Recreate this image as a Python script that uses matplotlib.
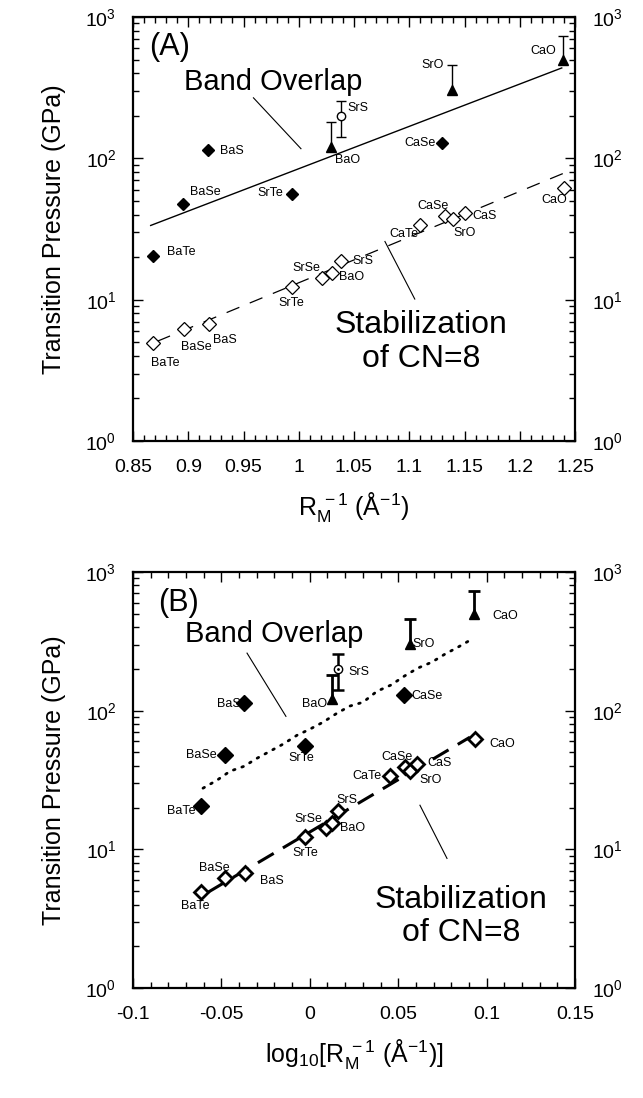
import numpy as np
import matplotlib
matplotlib.use("Agg")
import matplotlib.pyplot as plt
from matplotlib.ticker import MultipleLocator, FuncFormatter, LogLocator, NullFormatter

plt.rcParams['font.family'] = ['Liberation Sans', 'DejaVu Sans']
plt.rcParams['mathtext.fontset'] = 'custom'
plt.rcParams['mathtext.rm'] = 'Liberation Sans'
plt.rcParams['mathtext.it'] = 'Liberation Sans'
plt.rcParams['axes.unicode_minus'] = False

# ------------------------------------------------------------
# data
# ------------------------------------------------------------

# band overlap, filled diamonds
bo_names = ['BaTe', 'BaSe', 'BaS', 'SrTe', 'CaSe']
bo_x = [0.868, 0.895, 0.918, 0.994, 1.130]
bo_p = [20.5, 47.5, 114.0, 56.0, 129.0]

# band overlap, triangles with upper error bar
tri_names = ['BaO', 'SrO', 'CaO']
tri_x = [1.029, 1.139, 1.239]
tri_p = [121.0, 305.0, 497.0]
tri_hi = [181.0, 458.0, 735.0]

# SrS, circle with two-sided error bar
srs_x = 1.038
srs_p = 200.0
srs_lo = 142.0
srs_hi = 255.0

# stabilization of CN=8, open diamonds
cn_names = ['BaTe', 'BaSe', 'BaS', 'SrTe', 'SrSe', 'BaO', 'SrS',
            'CaTe', 'CaSe', 'SrO', 'CaS', 'CaO']
cn_x = [0.868, 0.896, 0.919, 0.994, 1.021, 1.030, 1.038,
        1.110, 1.132, 1.140, 1.150, 1.240]
cn_p = [4.9, 6.2, 6.7, 12.2, 14.2, 15.4, 18.8,
        34.0, 39.0, 37.0, 41.0, 62.0]

# fitted lines, panel A
fitA_bo_x = [0.866, 1.238]
fitA_bo_p = [33.5, 436.0]
fitA_cn_x = [0.872, 1.239]
fitA_cn_p = [5.08, 78.0]

# fitted curves, panel B (x = log10 R^-1)
fitB_cn_x = [-0.0576, 0.0906]
fitB_cn_p = [4.9, 64.4]
fitB_bo_x = [-0.0604, -0.0525, -0.0451, -0.0372, -0.0298, -0.0225, -0.0152,
             -0.0072, 0.0000, 0.0075, 0.0154, 0.0227, 0.0301, 0.0380,
             0.0459, 0.0533, 0.0612, 0.0691, 0.0765, 0.0838, 0.0917]
fitB_bo_p = [27.6, 31.5, 36.6, 39.7, 45.4, 51.0, 57.3,
             66.5, 73.5, 82.6, 95.9, 108.0, 115.0, 138.0,
             153.0, 177.0, 203.0, 224.0, 256.0, 287.0, 328.0]

# label offsets in pixels (dx, dy down, ha) for each panel
labA_bo = [(14, -4, 'left'), (7, -12, 'left'), (12, 1, 'left'), (-9, -1, 'right'), (-7, 0, 'right')]
labA_tri = [(4, 13, 'left'), (-9, -25, 'right'), (-7, -9, 'right')]
labA_srs = (7, -8, 'left')
labA_cn = [(12, 20, 'center'), (12, 18, 'center'), (4, 16, 'left'), (-1, 16, 'center'),
           (-16, -10, 'center'), (7, 4, 'left'), (12, 0, 'left'), (-16, 9, 'center'),
           (-12, -10, 'center'), (11, 14, 'center'), (8, 3, 'left'), (-10, 12, 'center')]

labB_bo = [(-6, 5, 'right'), (-8, 0, 'right'), (-3, 1, 'right'), (-4, 12, 'center'), (8, 1, 'left')]
labB_tri = [(-5, 5, 'right'), (3, 0, 'left'), (18, 2, 'left')]
labB_srs = (10, 3, 'left')
labB_cn = [(-6, 14, 'center'), (-11, -10, 'center'), (15, 8, 'left'), (0, 16, 'center'),
           (-17, -9, 'center'), (8, 5, 'left'), (8, -11, 'center'), (-8, 0, 'right'),
           (-8, -10, 'center'), (20, 9, 'center'), (10, -1, 'left'), (14, 5, 'left')]

W, H = 643, 1098
fig = plt.figure(figsize=(W / 100, H / 100), dpi=100)


def rect(left, top, right, bottom):
    return [left / W, 1 - bottom / H, (right - left) / W, (bottom - top) / H]


def put_label(ax, text, x, y, off, fs=9):
    dx, dy, ha = off
    ax.annotate(text, (x, y), xytext=(dx * 0.72, -dy * 0.72), textcoords='offset points',
                ha=ha, va='center', fontsize=fs)


def style_axes(ax, xmin, xmax, major, minor):
    ax.set_yscale('log')
    ax.set_ylim(1, 1000)
    ax.set_xlim(xmin, xmax)
    ax.xaxis.set_major_locator(MultipleLocator(major))
    ax.xaxis.set_minor_locator(MultipleLocator(minor))
    ax.xaxis.set_major_formatter(FuncFormatter(lambda v, p: '%g' % round(v, 4)))
    ax.yaxis.set_major_locator(LogLocator(base=10, numticks=10))
    ax.yaxis.set_minor_locator(LogLocator(base=10, subs=np.arange(2, 10), numticks=10))
    ax.yaxis.set_minor_formatter(NullFormatter())
    ax.tick_params(which='both', direction='in', top=True, right=True,
                   labelright=True, labelsize=14, width=1)
    ax.tick_params(which='major', length=7)
    ax.tick_params(which='minor', length=4)
    ax.tick_params(axis='x', pad=13)
    ax.tick_params(axis='y', pad=12)
    for s in ax.spines.values():
        s.set_linewidth(1.6)
    ax.set_ylabel('Transition Pressure (GPa)', fontsize=18, labelpad=14)


def upper_bars(ax, x, lo, hi, lw, cap):
    ax.vlines(x, lo, hi, color='k', lw=lw)
    ax.plot(x, hi, '_', color='k', ms=cap, mew=lw)


# ------------------------------------------------------------
# panel A
# ------------------------------------------------------------
ax1 = fig.add_axes(rect(133, 17, 575, 441))
style_axes(ax1, 0.85, 1.25, 0.05, 0.01)

ax1.plot(fitA_bo_x, fitA_bo_p, color='k', lw=1)
ax1.plot(fitA_cn_x, fitA_cn_p, color='k', lw=0.9, dashes=(11, 9))

ax1.plot(bo_x, bo_p, 'D', color='k', ms=6.5)
upper_bars(ax1, tri_x, tri_p, tri_hi, 1.0, 7)
ax1.plot(tri_x, tri_p, '^', color='k', ms=6.5)
upper_bars(ax1, [srs_x], [srs_lo], [srs_hi], 1.0, 7)
ax1.plot([srs_x], [srs_lo], '_', color='k', ms=7, mew=1)
ax1.plot([srs_x], [srs_p], 'o', mfc='white', mec='k', ms=6)
ax1.plot(cn_x, cn_p, 'D', mfc='white', mec='k', mew=0.9, ms=7)

for n, x, p, o in zip(bo_names, bo_x, bo_p, labA_bo):
    put_label(ax1, n, x, p, o)
for n, x, p, o in zip(tri_names, tri_x, tri_p, labA_tri):
    put_label(ax1, n, x, p, o)
put_label(ax1, 'SrS', srs_x, srs_p, labA_srs)
for n, x, p, o in zip(cn_names, cn_x, cn_p, labA_cn):
    put_label(ax1, n, x, p, o)

ax1.text(0.883, 614, '(A)', fontsize=22, ha='center', va='center')
ax1.text(0.977, 348, 'Band Overlap', fontsize=21, ha='center', va='center')
ax1.plot([0.959, 1.002], [268, 117], color='k', lw=0.8)
ax1.text(1.111, 5.0, 'Stabilization\nof CN=8', fontsize=23, ha='center', va='center',
         linespacing=1.15)
ax1.plot([1.078, 1.105], [25.8, 10.1], color='k', lw=0.8)

ax1.set_xlabel(r'$\mathrm{R_M^{\ -1}\ (\AA^{-1})}$', fontsize=18, labelpad=10)

# ------------------------------------------------------------
# panel B
# ------------------------------------------------------------
ax2 = fig.add_axes(rect(133, 572, 575, 988))
style_axes(ax2, -0.1, 0.15, 0.05, 0.01)

lbo_x = np.log10(bo_x)
ltri_x = np.log10(tri_x)
lsrs_x = np.log10(srs_x)
lcn_x = np.log10(cn_x)

ax2.plot(fitB_bo_x, fitB_bo_p, color='k', lw=2, ls=(0, (0.6, 2.6)), dash_capstyle='round')
ax2.plot(fitB_cn_x, fitB_cn_p, color='k', lw=2.2, dashes=(6, 3.5))

ax2.plot(lbo_x, bo_p, 'D', color='k', ms=8)
upper_bars(ax2, ltri_x, tri_p, tri_hi, 2.0, 8)
ax2.plot(ltri_x, tri_p, '^', color='k', ms=7)
upper_bars(ax2, [lsrs_x], [srs_lo], [srs_hi], 1.8, 8)
ax2.plot([lsrs_x], [srs_lo], '_', color='k', ms=8, mew=1.8)
ax2.plot([lsrs_x], [srs_p], 'o', mfc='white', mec='k', ms=6, mew=1)
ax2.plot([lsrs_x], [srs_p], '.', color='k', ms=2)
ax2.plot(lcn_x, cn_p, 'D', mfc='white', mec='k', mew=2, ms=7)

for n, x, p, o in zip(bo_names, lbo_x, bo_p, labB_bo):
    put_label(ax2, n, x, p, o)
for n, x, p, o in zip(tri_names, ltri_x, tri_p, labB_tri):
    put_label(ax2, n, x, p, o)
put_label(ax2, 'SrS', lsrs_x, srs_p, labB_srs)
for n, x, p, o in zip(cn_names, lcn_x, cn_p, labB_cn):
    put_label(ax2, n, x, p, o)

ax2.text(-0.0745, 597, '(B)', fontsize=22, ha='center', va='center')
ax2.text(-0.0203, 357, 'Band Overlap', fontsize=21, ha='center', va='center')
ax2.plot([-0.0355, -0.0135], [260, 91], color='k', lw=0.8)
ax2.text(0.0855, 3.28, 'Stabilization\nof CN=8', fontsize=23, ha='center', va='center',
         linespacing=1.15)
ax2.plot([0.0623, 0.0776], [20.8, 8.6], color='k', lw=0.8)

ax2.set_xlabel(r'$\mathrm{log_{10}[R_M^{\ -1}\ (\AA^{-1})]}$', fontsize=18, labelpad=10)

fig.savefig('out.png', dpi=100)
